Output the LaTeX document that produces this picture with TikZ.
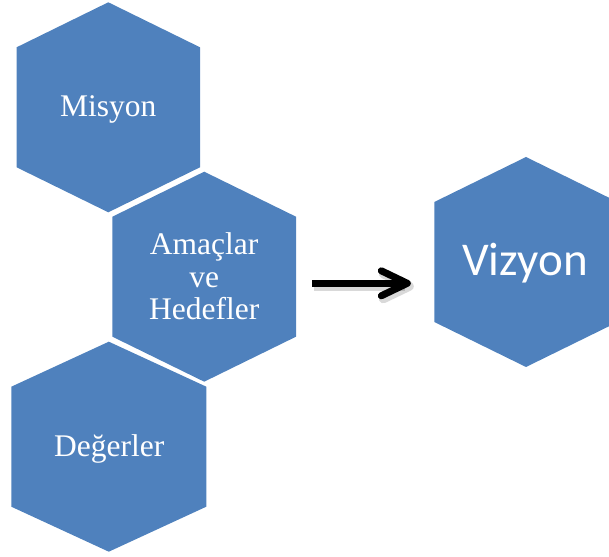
\documentclass[tikz,border=0pt]{standalone}
\usepackage{fontspec}
\setmainfont{Liberation Serif}
\newfontfamily\vizfont{Carlito}
\usetikzlibrary{calc}
\definecolor{hexblue}{HTML}{4F81BD}
\tikzset{
  hexbox/.style={minimum height=210pt, inner sep=0pt, outer sep=0pt},
  hexfill/.style={fill=hexblue},
  hexlabel/.style={text=white, font=\fontsize{31.5}{32.5}\selectfont, inner sep=0pt, align=center},
  vizlabel/.style={text=white, font=\vizfont\fontsize{47}{50}\selectfont, inner sep=0pt},
  arrowline/.style={line width=7pt, draw=black},
  arrowshadow/.style={line width=9pt, draw=black, opacity=0.15},
}
\newcommand\drawhexagon[1]{%
  \fill[hexfill] (#1.north) -- ([yshift=-45pt]#1.north east) -- ([yshift=45pt]#1.south east)
    -- (#1.south) -- ([yshift=45pt]#1.south west) -- ([yshift=-45pt]#1.north west) -- cycle;}
\begin{document}
\begin{tikzpicture}[x=1pt,y=1pt]
\useasboundingbox (0,0) rectangle (609,556);
\clip (0,0) rectangle (609,556);
% hexagon frames
\node[hexbox, minimum width=183.4pt] (misyon) at (108.3,448.7) {};
\node[hexbox, minimum width=183.6pt] (amac) at (204.2,279.3) {};
\node[hexbox, minimum width=195pt] (deger) at (108.8,109.3) {};
\node[hexbox, minimum width=183.4pt] (vizyon) at (526,294) {};
\drawhexagon{misyon}
\drawhexagon{amac}
\drawhexagon{deger}
\drawhexagon{vizyon}
% labels
\node[hexlabel, anchor=base] (misyonT) at (108.3,439.3) {Misyon};
\node[hexlabel, anchor=center] (amacT) at (204.2,279.5) {Amaçlar\\ve\\Hedefler};
\node[hexlabel, anchor=base] (degerT) at (109.2,99.3) {Değerler};
\node[vizlabel, anchor=base] (vizyonT) at (525,280) {Vizyon};
% arrow
\coordinate (as) at ([shift={(16,-6.6)}]amac.east);
\coordinate (ae) at ([shift={(-27,-21.3)}]vizyon.west);
\draw[arrowshadow] ([shift={(2,-3)}]as) -- ([shift={(-2,-3)}]ae);
\draw[arrowshadow, line cap=round, line join=round] ([shift={(-24,9.5)}]ae) -- ([shift={(2,-3)}]ae) -- ([shift={(-24,-15.5)}]ae);
\draw[arrowline] (as) -- ([xshift=-4pt]ae);
\draw[arrowline, line cap=round, line join=round] ([shift={(-26,12.5)}]ae) -- (ae) -- ([shift={(-26,-12.5)}]ae);
\end{tikzpicture}
\end{document}
